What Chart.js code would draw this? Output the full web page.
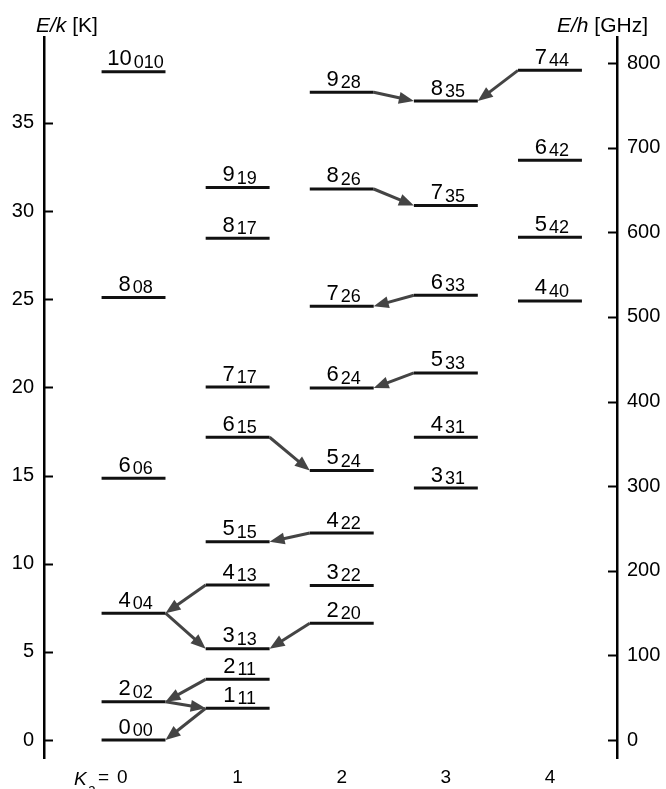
<!DOCTYPE html>
<html>
<head>
<meta charset="utf-8">
<script src="https://cdn.jsdelivr.net/npm/chart.js@4"></script>
<style>
  html, body { margin: 0; padding: 0; background: #fff; }
  #wrap { width: 666px; height: 789px; position: relative; }
</style>
</head>
<body>
<div id="wrap"><canvas id="levels"></canvas></div>
<script>
// rotational levels J(Ka,Kc), energies in K
const levelJ  = [0, 2, 4, 6, 8, 10,   1, 2, 3, 4, 5, 6, 7, 8, 9,   2, 3, 4, 5, 6, 7, 8, 9,   3, 4, 5, 6, 7, 8,   4, 5, 6, 7];
const levelKa = [0, 0, 0, 0, 0, 0,    1, 1, 1, 1, 1, 1, 1, 1, 1,   2, 2, 2, 2, 2, 2, 2, 2,   3, 3, 3, 3, 3, 3,   4, 4, 4, 4];
const levelKc = [0, 2, 4, 6, 8, 10,   1, 1, 3, 3, 5, 5, 7, 7, 9,   0, 2, 2, 4, 4, 6, 6, 8,   1, 1, 3, 3, 5, 5,   0, 2, 2, 4];
const levelE  = [0.0, 2.17, 7.19, 14.85, 25.1, 37.9,
                 1.80, 3.44, 5.18, 8.79, 11.25, 17.17, 20.02, 28.46, 31.33,
                 6.62, 8.77, 11.74, 15.28, 19.97, 24.6, 31.25, 36.74,
                 14.29, 17.17, 20.82, 25.22, 30.31, 36.24,
                 24.9, 28.51, 32.88, 37.98];

// transitions (arrows), upper -> lower
const transFrom = ['9_28', '7_44', '8_26', '6_33', '5_33', '6_15', '4_22', '4_13', '4_04', '2_20', '2_11', '2_02', '1_11'];
const transTo   = ['8_35', '8_35', '7_35', '7_26', '6_24', '5_24', '5_15', '4_04', '3_13', '3_13', '2_02', '1_11', '0_00'];

// axis ticks
const kaTicks  = [0, 1, 2, 3, 4];
const kTicks   = [0, 5, 10, 15, 20, 25, 30, 35];
const ghzTicks = [0, 100, 200, 300, 400, 500, 600, 700, 800];

const K_TO_GHZ = 20.837;   // E/h per E/k
const eMin = -1.02, eMax = 39.87;
const halfWidth = 0.307;   // half length of a level bar, in Ka units

const FONT = '"Liberation Sans", Arial, sans-serif';
Chart.defaults.font.family = FONT;
Chart.defaults.color = '#000';

function levelKey(i) {
    return levelJ[i] + '_' + levelKa[i] + levelKc[i];
}

const levelIndex = {};
levelJ.forEach((j, i) => { levelIndex[levelKey(i)] = i; });

const datasets = levelE.map((e, i) => ({
    data: [{ x: levelKa[i] - halfWidth, y: e }, { x: levelKa[i] + halfWidth, y: e }],
    showLine: true,
    borderColor: '#111',
    borderWidth: 3,
    borderCapStyle: 'butt',
    pointRadius: 0,
    fill: false
}));

function drawArrow(ctx, x0, y0, x1, y1) {
    const dx = x1 - x0, dy = y1 - y0;
    const len = Math.hypot(dx, dy);
    const ux = dx / len, uy = dy / len;
    const hl = 15, hw = 6;
    const bx = x1 - ux * hl, by = y1 - uy * hl;
    ctx.beginPath();
    ctx.moveTo(x0, y0);
    ctx.lineTo(bx + ux * 2, by + uy * 2);
    ctx.stroke();
    ctx.beginPath();
    ctx.moveTo(x1, y1);
    ctx.lineTo(bx - uy * hw, by + ux * hw);
    ctx.lineTo(bx + uy * hw, by - ux * hw);
    ctx.closePath();
    ctx.fill();
}

const diagramPlugin = {
    id: 'diagram',
    afterDatasetsDraw(chart) {
        const ctx = chart.ctx;
        const xs = chart.scales.x, ys = chart.scales.y, ys2 = chart.scales.y2;
        ctx.save();

        // arrows
        ctx.strokeStyle = '#444';
        ctx.fillStyle = '#444';
        ctx.lineWidth = 3;
        ctx.lineCap = 'butt';
        transFrom.forEach((from, t) => {
            const a = levelIndex[from], b = levelIndex[transTo[t]];
            const dir = levelKa[b] > levelKa[a] ? 1 : -1;
            const x0 = xs.getPixelForValue(levelKa[a] + dir * halfWidth);
            const y0 = ys.getPixelForValue(levelE[a]);
            const x1 = xs.getPixelForValue(levelKa[b] - dir * halfWidth);
            const y1 = ys.getPixelForValue(levelE[b]);
            drawArrow(ctx, x0, y0, x1, y1);
        });

        // level labels J with subscript KaKc
        ctx.fillStyle = '#000';
        ctx.textBaseline = 'alphabetic';
        ctx.textAlign = 'left';
        levelE.forEach((e, i) => {
            const main = String(levelJ[i]);
            const sub = '' + levelKa[i] + levelKc[i];
            ctx.font = '22px ' + FONT;
            const wMain = ctx.measureText(main).width;
            ctx.font = '18px ' + FONT;
            const wSub = ctx.measureText(sub).width;
            const gap = 2;
            const xc = xs.getPixelForValue(levelKa[i]) + 2;
            const yp = ys.getPixelForValue(e);
            const x0 = xc - (wMain + gap + wSub) / 2;
            ctx.font = '22px ' + FONT;
            ctx.fillText(main, x0, yp - 6.5);
            ctx.font = '18px ' + FONT;
            ctx.fillText(sub, x0 + wMain + gap, yp - 4);
        });

        // inward tick marks on both energy axes
        ctx.strokeStyle = '#000';
        ctx.lineWidth = 2;
        kTicks.forEach(v => {
            const y = Math.round(ys.getPixelForValue(v)) + 0.5;
            ctx.beginPath();
            ctx.moveTo(chart.chartArea.left, y);
            ctx.lineTo(chart.chartArea.left + 9, y);
            ctx.stroke();
        });
        ghzTicks.forEach(v => {
            const y = Math.round(ys2.getPixelForValue(v)) + 0.5;
            ctx.beginPath();
            ctx.moveTo(chart.chartArea.right - 9, y);
            ctx.lineTo(chart.chartArea.right, y);
            ctx.stroke();
        });

        // axis titles
        ctx.font = 'italic 21px ' + FONT;
        ctx.fillText('E/k', 36, 32);
        let w = ctx.measureText('E/k').width;
        ctx.font = '21px ' + FONT;
        ctx.fillText(' [K]', 36 + w, 32);

        ctx.font = 'italic 21px ' + FONT;
        ctx.fillText('E/h', 557, 32);
        w = ctx.measureText('E/h').width;
        ctx.font = '21px ' + FONT;
        ctx.fillText(' [GHz]', 557 + w, 32);

        // "Ka = 0" under the first column
        ctx.font = 'italic 19px ' + FONT;
        ctx.fillText('K', 74, 785);
        ctx.font = '14px ' + FONT;
        ctx.fillText('a', 88, 794);
        ctx.font = '19px ' + FONT;
        ctx.fillText('=', 98, 783);
        ctx.fillText(String(kaTicks[0]), 117, 783);

        ctx.restore();
    }
};

new Chart(document.getElementById('levels'), {
    type: 'scatter',
    data: { datasets: datasets },
    options: {
        responsive: true,
        maintainAspectRatio: false,
        animation: false,
        layout: { padding: { top: 37, left: 0, right: 0, bottom: 0 } },
        plugins: {
            legend: { display: false },
            tooltip: { enabled: false }
        },
        scales: {
            x: {
                type: 'linear',
                position: 'bottom',
                min: -0.86,
                max: 4.644,
                afterBuildTicks: s => { s.ticks = kaTicks.map(v => ({ value: v })); },
                afterFit: s => { s.height = 31; },
                grid: { display: false },
                border: { display: false },
                ticks: {
                    padding: 0,
                    font: { size: 19 },
                    color: '#000',
                    // the first column label is written together with "Ka ="
                    callback: v => (v === kaTicks[0] ? '' : String(v))
                }
            },
            y: {
                type: 'linear',
                position: 'left',
                min: eMin,
                max: eMax,
                afterBuildTicks: s => { s.ticks = kTicks.map(v => ({ value: v })); },
                afterFit: s => { s.width = 44; },
                grid: { display: false },
                border: { display: true, color: '#000', width: 2.5 },
                ticks: { padding: 2, font: { size: 20 }, color: '#000' }
            },
            y2: {
                type: 'linear',
                position: 'right',
                min: eMin * K_TO_GHZ,
                max: eMax * K_TO_GHZ,
                afterBuildTicks: s => { s.ticks = ghzTicks.map(v => ({ value: v })); },
                afterFit: s => { s.width = 49; },
                grid: { display: false },
                border: { display: true, color: '#000', width: 2.5 },
                ticks: { padding: 2, font: { size: 20 }, color: '#000' }
            }
        }
    },
    plugins: [diagramPlugin]
});
</script>
</body>
</html>
